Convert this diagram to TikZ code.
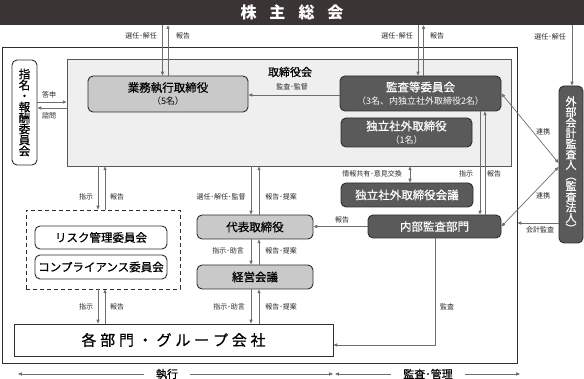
\documentclass[tikz,border=0pt]{standalone}
\usepackage{fontspec}
\setmainfont{Noto Sans CJK JP}
\newfontfamily\medfont{Noto Sans CJK JP}[FakeBold=0.6]
\usetikzlibrary{arrows.meta,calc}
\definecolor{shdark}{HTML}{3B3435}
\definecolor{dk}{HTML}{5A5A5A}
\definecolor{dkb}{HTML}{2E2E2E}
\definecolor{gr}{HTML}{C9C9C9}
\definecolor{bd}{HTML}{EFEFEF}
\definecolor{ln}{HTML}{6E6E6E}
\newcommand{\subln}[1]{{\normalfont\fontsize{9}{10}\selectfont #1}}
\begin{document}
\begin{tikzpicture}[x=1pt,y=-1pt,
 box/.style={rectangle, rounded corners=5pt, inner sep=0pt, line width=0.9pt, align=center},
 dkbox/.style={box, fill=dk, draw=dkb, text=white, font=\medfont\fontsize{11.5}{13}\selectfont},
 grbox/.style={box, fill=gr, draw=dkb, font=\medfont\fontsize{11.5}{13}\selectfont},
 whbox/.style={box, fill=white, draw=dkb, font=\medfont\fontsize{11.5}{13}\selectfont},
 lbl/.style={inner sep=0pt, font=\fontsize{7}{8}\selectfont, text=black!85},
 arr/.style={draw=ln, line width=0.7pt, -{Triangle[length=3.8pt,width=3.2pt]}},
 arrb/.style={draw=ln, line width=0.7pt, {Triangle[length=3.8pt,width=3.2pt]}-{Triangle[length=3.8pt,width=3.2pt]}}
]
\useasboundingbox (0,0) rectangle (584,379);

% lanes
\coordinate (xa1) at (162.5,0); \coordinate (xa2) at (168,0);
\coordinate (xb1) at (418,0);   \coordinate (xb2) at (423.5,0);
\coordinate (xc1) at (98,0);    \coordinate (xc2) at (105,0);
\coordinate (xd1) at (251,0);   \coordinate (xd2) at (259,0);
\coordinate (xe1) at (480,0);   \coordinate (xe2) at (485,0);
\coordinate (xf) at (410,0);    \coordinate (xg) at (572,0);
\coordinate (xh) at (435,0);
\coordinate (ya1) at (0,102);   \coordinate (ya2) at (0,108);
\coordinate (yk) at (0,223);    \coordinate (yl) at (0,345);
\coordinate (yr1) at (0,163);   \coordinate (yr2) at (0,167);
\coordinate (ymd) at (0,95);

% frames
\node[rectangle, fill=shdark, minimum width=584pt, minimum height=25pt, inner sep=0pt, text=white,
      font=\bfseries\fontsize{16}{16}\selectfont] (sh) at (292,12.5)
      {株\hspace{13pt}主\hspace{13pt}総\hspace{13pt}会\hspace{11pt}};
\node[draw=dkb, line width=0.9pt, minimum width=515pt, minimum height=316pt, inner sep=0pt] (outer) at (259.5,205) {};
\node[draw=dkb!80, fill=bd, line width=0.9pt, minimum width=444pt, minimum height=107pt, inner sep=0pt] (board) at (289,112.5) {};
\node[inner sep=0pt, font=\medfont\fontsize{11}{12}\selectfont] (boardlbl) at (290,72) {取締役会};

% boxes
\node[grbox, minimum width=160pt, minimum height=36pt] (gyomu) at (168,94) {業務執行取締役\\\subln{（5名）}};
\node[dkbox, minimum width=161pt, minimum height=35pt] (kansa) at (420.5,93.5) {監査等委員会\\\subln{（3名、内独立社外取締役2名）}};
\node[dkbox, minimum width=131pt, minimum height=29pt] (dokuritsu) at (406.5,132.5) {独立社外取締役\\\subln{（1名）}};
\node[dkbox, minimum width=132pt, minimum height=24pt] (kaigi) at (407,195) {独立社外取締役会議};
\node[dkbox, minimum width=133pt, minimum height=23pt] (naibu) at (434.5,226.5) {内部監査部門};
\node[dkbox, minimum width=24pt, minimum height=157pt, font=\medfont\fontsize{11}{10.6}\selectfont] (gaibu) at (571,164.5)
  {外\\部\\会\\計\\監\\査\\人\\︵\\監\\査\\法\\人\\︶};
\node[whbox, minimum width=25pt, minimum height=105pt, font=\medfont\fontsize{11.5}{11}\selectfont] (shimei) at (24.5,112.5)
  {指\\名\\・\\報\\酬\\委\\員\\会};
\node[draw=dkb, dash pattern=on 4pt off 3pt, line width=0.9pt, minimum width=154pt, minimum height=79pt, inner sep=0pt] (dbox) at (103,249.5) {};
\node[whbox, minimum width=132pt, minimum height=23pt] (risk) at (101,237.5) {リスク管理委員会};
\node[whbox, minimum width=132pt, minimum height=24pt] (comp) at (101,267) {コンプライアンス委員会};
\node[grbox, minimum width=116pt, minimum height=24pt] (daihyo) at (255,227) {代表取締役};
\node[grbox, minimum width=116pt, minimum height=24pt] (keiei) at (255,277) {経営会議};
\node[rectangle, draw=dkb, fill=white, line width=0.9pt, minimum width=319pt, minimum height=32pt, inner sep=0pt,
      font=\medfont\fontsize{15}{16}\selectfont] (kakubu) at (173.5,340)
  {各\hspace{3.8pt}部\hspace{3.8pt}門\hspace{3.8pt}・\hspace{3.8pt}グ\hspace{3.8pt}ル\hspace{3.8pt}ー\hspace{3.8pt}プ\hspace{3.8pt}会\hspace{3.8pt}社};

% connectors: shareholders
\draw[arr] (xa1 |- sh.south) -- (xa1 |- gyomu.north);
\draw[arr] (xa2 |- gyomu.north) -- (xa2 |- sh.south);
\draw[arr] (xb1 |- sh.south) -- (xb1 |- kansa.north);
\draw[arr] (xb2 |- kansa.north) -- (xb2 |- sh.south);
\draw[arr] (xg |- sh.south) -- (xg |- gaibu.north);
\node[lbl] (l1) at (141,36) {選任･解任};
\node[lbl] (l2) at (183,36) {報告};
\node[lbl] (l3) at (397,36) {選任･解任};
\node[lbl] (l4) at (437,36) {報告};
\node[lbl] (l5) at (550,37) {選任･解任};

% audit/supervision
\draw[arr] (kansa.west |- ymd) -- (gyomu.east |- ymd);
\node[lbl] (l6) at (292,87) {監査･監督};

% nomination
\draw[arr] (shimei.east |- ya1) -- (board.west |- ya1);
\draw[arr] (board.west |- ya2) -- (shimei.east |- ya2);
\node[lbl] (l7) at (49,95) {答申};
\node[lbl] (l8) at (49,116) {諮問};

% board -> committees
\draw[arr] (xc1 |- board.south) -- (xc1 |- dbox.north);
\draw[arr] (xc2 |- dbox.north) -- (xc2 |- board.south);
\node[lbl] (l9) at (86,197) {指示};
\node[lbl] (l10) at (117,197) {報告};
\draw[arr] (xc1 |- dbox.south) -- (xc1 |- kakubu.north);
\draw[arr] (xc2 |- kakubu.north) -- (xc2 |- dbox.south);
\node[lbl] (l11) at (86,307) {指示};
\node[lbl] (l12) at (117,307) {報告};

% board -> representative director -> management -> divisions
\draw[arr] (xd1 |- board.south) -- (xd1 |- daihyo.north);
\draw[arr] (xd2 |- daihyo.north) -- (xd2 |- board.south);
\node[lbl] (l13) at (221,197) {選任･解任･監督};
\node[lbl] (l14) at (281,197) {報告･提案};
\draw[arr] (xd1 |- daihyo.south) -- (xd1 |- keiei.north);
\draw[arr] (xd2 |- keiei.north) -- (xd2 |- daihyo.south);
\node[lbl] (l15) at (228,251) {指示･助言};
\node[lbl] (l16) at (281,251) {報告･提案};
\draw[arr] (xd1 |- keiei.south) -- (xd1 |- kakubu.north);
\draw[arr] (xd2 |- kakubu.north) -- (xd2 |- keiei.south);
\node[lbl] (l17) at (229,307) {指示･助言};
\node[lbl] (l18) at (281,307) {報告･提案};

% audit committee <-> internal audit
\draw[arr] (xe1 |- kansa.south) -- (xe1 |- naibu.north);
\draw[arr] (xe2 |- naibu.north) -- (xe2 |- kansa.south);
\node[lbl] (l19) at (466,174) {指示};
\node[lbl] (l20) at (494,174) {報告};

% info exchange
\draw[arrb] (xf |- board.south) -- (xf |- kaigi.north);
\node[lbl] (l21) at (372,174) {情報共有･意見交換};

% internal audit -> representative
\draw[arr] (naibu.west) -- (daihyo.east |- naibu.west);
\node[lbl] (l22) at (342,220) {報告};

% internal audit -> divisions
\draw[arr] (xh |- naibu.south) -- (xh |- yl) -- (kakubu.east |- yl);
\node[lbl] (l23) at (447,307) {監査};

% external auditor
\draw[arrb] (kansa.east) -- (gaibu.west |- yr1);
\draw[arrb] (gaibu.west |- yr2) -- (naibu.east);
\node[lbl] (l24) at (543,132) {連携};
\node[lbl] (l25) at (543,196) {連携};
\draw[arr] (gaibu.west |- yk) -- (outer.east |- yk);
\node[lbl] (l26) at (540,230) {会計監査};

% bottom ranges
\coordinate (b1) at (18,374);
\coordinate (b2) at (333,374);
\coordinate (b3) at (335,374);
\coordinate (b4) at (520,374);
\node[inner sep=0pt, font=\medfont\fontsize{11}{12}\selectfont] (zx) at (167,374) {執行};
\node[inner sep=0pt, font=\medfont\fontsize{11}{12}\selectfont] (kr) at (428,374) {監査･管理};
\draw[arr] ([xshift=-12pt]zx.west) -- (b1);
\draw[arr] ([xshift=12pt]zx.east) -- (b2);
\draw[arr] ([xshift=-12pt]kr.west) -- (b3);
\draw[arr] ([xshift=12pt]kr.east) -- (b4);
\end{tikzpicture}
\end{document}
